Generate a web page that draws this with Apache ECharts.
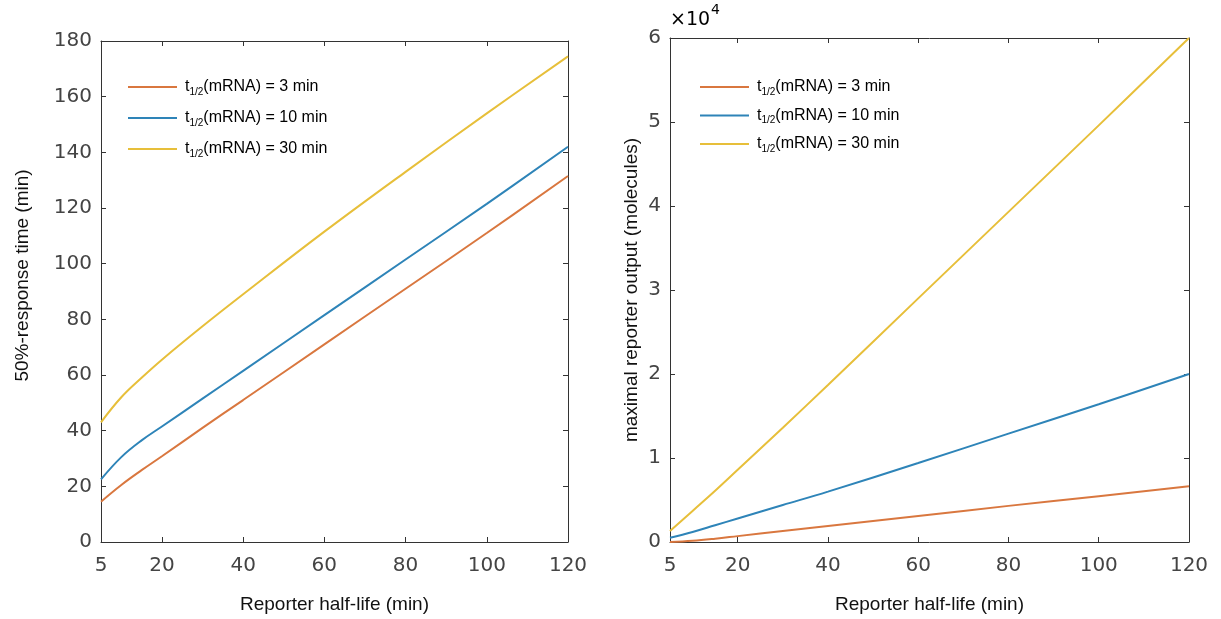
<!DOCTYPE html>
<html>
<head>
<meta charset="utf-8">
<script src="https://cdn.jsdelivr.net/npm/echarts@6/dist/echarts.min.js"></script>
<style>
html,body{margin:0;padding:0;background:#fff;}
#chart{width:1221px;height:619px;}
</style>
</head>
<body>
<div id="chart"></div>
<script>
// x values (reporter half-life, min)
const halfLife = [5, 10, 15, 20, 30, 40, 60, 80, 100, 120]
const halfLifeTicks = [5, 20, 40, 60, 80, 100, 120]
const mrnaNames = ['3 min', '10 min', '30 min']
const colors = ['#D9773F', '#2E84B8', '#E7BF3A']

// left: 50%-response time (min)
const resp3 = [14.5, 20.5, 25.8, 30.8, 41, 51, 71, 91, 111, 131.5]
const resp10 = [22.5, 30.5, 36.5, 41.5, 51.5, 61.5, 81.5, 101.5, 121.5, 142]
const resp30 = [43, 52, 59, 65.5, 77.5, 89, 111.5, 133, 154, 174.5]

// right: maximal reporter output (molecules)
const out3 = [0, 150, 400, 700, 1300, 1900, 3100, 4300, 5450, 6650]
const out10 = [500, 1200, 2000, 2800, 4400, 6000, 9400, 12900, 16400, 20000]
const out30 = [1300, 3700, 6100, 8600, 13600, 18700, 29000, 39300, 49600, 60000]

const tickFont = {fontFamily: 'DejaVu Sans', fontSize: 20, color: '#444'}
const titleFont = {fontFamily: 'Liberation Sans', fontSize: 19, color: '#111'}

function pairs(ys){
    return halfLife.map((x, i) => [x, ys[i]])
}

function xAxes(grid){
    const base = {
        type: 'value', gridIndex: grid, min: 5, max: 120,
        axisLine: {show: true, onZero: false, lineStyle: {color: '#333', width: 1}},
        axisTick: {show: true, inside: true, length: 5, customValues: halfLifeTicks, lineStyle: {color: '#333'}},
        splitLine: {show: false}
    }
    return [
        Object.assign({}, base, {
            position: 'bottom',
            name: 'Reporter half-life (min)', nameLocation: 'middle', nameGap: 53,
            nameTextStyle: titleFont,
            axisLabel: Object.assign({customValues: halfLifeTicks, margin: 14}, tickFont)
        }),
        Object.assign({}, base, {position: 'top', axisLabel: {show: false}})
    ]
}

function yAxes(grid, max, interval, name, gap, pad, fmt){
    const base = {
        type: 'value', gridIndex: grid, min: 0, max: max, interval: interval,
        axisLine: {show: true, onZero: false, lineStyle: {color: '#333', width: 1}},
        axisTick: {show: true, inside: true, length: 5, lineStyle: {color: '#333'}},
        splitLine: {show: false}
    }
    return [
        Object.assign({}, base, {
            position: 'left',
            name: name, nameLocation: 'middle', nameGap: gap,
            nameTextStyle: Object.assign({padding: pad}, titleFont),
            axisLabel: Object.assign({margin: 9, formatter: fmt}, tickFont)
        }),
        Object.assign({}, base, {position: 'right', axisLabel: {show: false}})
    ]
}

function legend(left, top, gap){
    return {
        left: left, top: top, orient: 'vertical',
        data: mrnaNames, icon: 'rect', itemWidth: 49, itemHeight: 2, itemGap: gap,
        formatter: function(name){
            return '{g|}{a|t}{b|1/2}{a|(mRNA) = ' + name + '}'
        },
        textStyle: {
            rich: {
                g: {width: 3},
                a: {fontFamily: 'Liberation Sans', fontSize: 16, color: '#000', lineHeight: 18},
                b: {fontFamily: 'Liberation Sans', fontSize: 10, color: '#000', padding: [10, 0, 0, 0], lineHeight: 11}
            }
        }
    }
}

function series(xi, yi, data){
    return data.map((d, i) => ({
        name: mrnaNames[i], type: 'line', xAxisIndex: xi, yAxisIndex: yi,
        data: pairs(d), smooth: 0.4, showSymbol: false,
        lineStyle: {width: 2, color: colors[i]}, itemStyle: {color: colors[i]}
    }))
}

const chart = echarts.init(document.getElementById('chart'))
chart.setOption({
    animation: false,
    color: colors,
    grid: [
        {left: 101, top: 41, width: 467, height: 504},
        {left: 670, top: 38, width: 519, height: 507}
    ],
    xAxis: xAxes(0).concat(xAxes(1)),
    yAxis: yAxes(0, 180, 20, '50%-response time (min)', 69, [0, 0, 0, 32])
        .concat(yAxes(1, 60000, 10000, 'maximal reporter output (molecules)', 29, 0, v => String(v / 10000))),
    legend: [legend(123, 72, 11), legend(695, 72, 8.5)],
    graphic: [{
        type: 'text', left: 670, top: 3,
        style: {
            text: '{m|×10}{e|4}',
            rich: {
                m: {fontFamily: 'DejaVu Sans', fontSize: 19, color: '#444', padding: [14, 0, 0, 0]},
                e: {fontFamily: 'DejaVu Sans', fontSize: 14, color: '#444', padding: [0, 0, 6, 1]}
            }
        }
    }],
    series: series(0, 0, [resp3, resp10, resp30]).concat(series(2, 2, [out3, out10, out30]))
})
</script>
</body>
</html>
